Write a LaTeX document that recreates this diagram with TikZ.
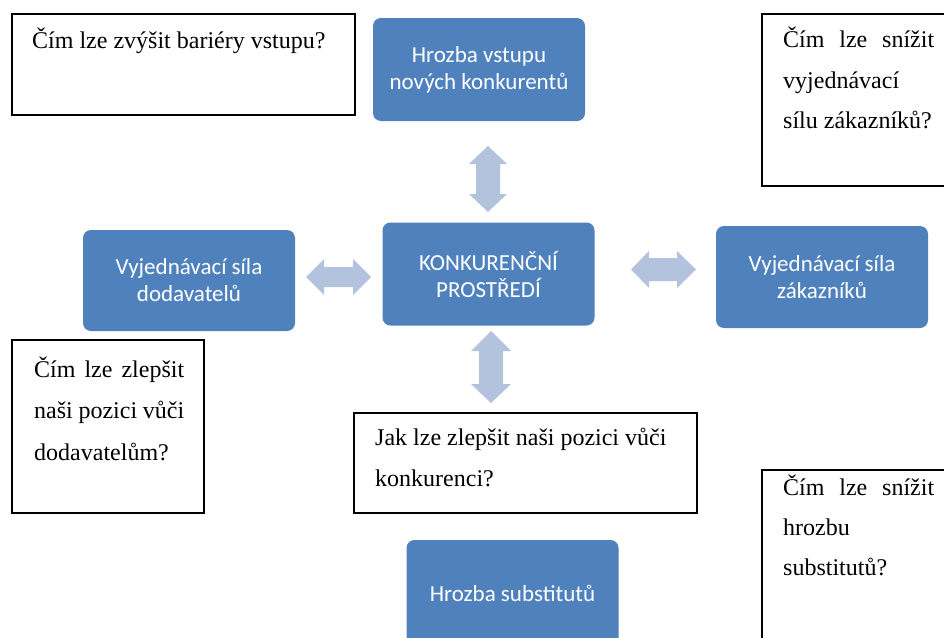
\documentclass[tikz,border=0pt]{standalone}
\usepackage{fontspec}
\setmainfont{Liberation Serif}
\newfontfamily\carlitofont{Carlito}
\definecolor{boxblue}{HTML}{4F81BD}
\definecolor{arrowblue}{HTML}{B3C3DE}
\tikzset{
  bluebox/.style={fill=boxblue, rounded corners=8pt, text=white, align=center,
    font=\carlitofont\fontsize{23}{27}\selectfont, minimum width=212pt, minimum height=103pt, inner sep=0pt},
  qbox/.style={draw=black, line width=1.3pt, fill=white},
  qtext/.style={anchor=base west, inner sep=0pt, font=\fontsize{24}{29}\selectfont},
  blockarrow/.style={fill=arrowblue, draw=none}
}
\begin{document}
\begin{tikzpicture}[x=1pt,y=-1pt]
\useasboundingbox (0,0) rectangle (944,637);
\clip (0,0) rectangle (944,637);
\fill[white] (0,0) rectangle (944,637);

% question boxes
\draw[qbox] (12,14) rectangle (355,115);
\node[qtext] (t1) at (32,48) {Čím lze zvýšit bariéry vstupu?};

\draw[qbox] (762,14) rectangle (970,186);
\node[qtext] (t2a) at (783,47) {\makebox[151pt][s]{Čím lze snížit}};
\node[qtext] (t2b) at (783,88) {vyjednávací};
\node[qtext] (t2c) at (783,128) {sílu zákazníků?};

\draw[qbox] (12,340) rectangle (204,513);
\node[qtext] (t3a) at (34,377) {\makebox[150pt][s]{Čím lze zlepšit}};
\node[qtext] (t3b) at (34,418) {\makebox[150pt][s]{naši pozici vůči}};
\node[qtext] (t3c) at (34,460) {dodavatelům?};

\draw[qbox] (354,413) rectangle (697,513);
\node[qtext] (t4a) at (375,445) {Jak lze zlepšit naši pozici vůči};
\node[qtext] (t4b) at (375,486) {konkurenci?};

\draw[qbox] (762,470) rectangle (970,660);
\node[qtext] (t5a) at (783,495) {\makebox[151pt][s]{Čím lze snížit}};
\node[qtext] (t5b) at (783,535) {hrozbu};
\node[qtext] (t5c) at (783,575) {substitutů?};

% blue boxes
\node[bluebox] (entry) at (479,69.5) {Hrozba vstupu\\nových konkurentů};
\node[bluebox] (center) at (488.5,274) {KONKURENČNÍ\\PROSTŘEDÍ};
\node[bluebox, minimum height=101pt] (supp) at (189,280.5) {Vyjednávací síla\\dodavatelů};
\node[bluebox, minimum height=102pt] (cust) at (822,277) {Vyjednávací síla\\zákazníků};
\node[bluebox, minimum height=106pt] (subst) at (512.5,593) {Hrozba substitutů};

% block arrows
\path[blockarrow] (488,146) -- (507,164) -- (500,164) -- (500,194) -- (507,194) -- (488,212)
  -- (469,194) -- (476,194) -- (476,164) -- (469,164) -- cycle;
\path[blockarrow] (491,331) -- (511,351) -- (503,351) -- (503,384) -- (511,384) -- (491,403)
  -- (471,384) -- (479,384) -- (479,351) -- (471,351) -- cycle;
\path[blockarrow] (306,277) -- (324,259) -- (324,267) -- (353,267) -- (353,259) -- (371,277)
  -- (353,295) -- (353,287) -- (324,287) -- (324,295) -- cycle;
\path[blockarrow] (631,269.5) -- (649,251) -- (649,258) -- (677,258) -- (677,251) -- (696,269.5)
  -- (677,288) -- (677,281) -- (649,281) -- (649,288) -- cycle;
\end{tikzpicture}
\end{document}
